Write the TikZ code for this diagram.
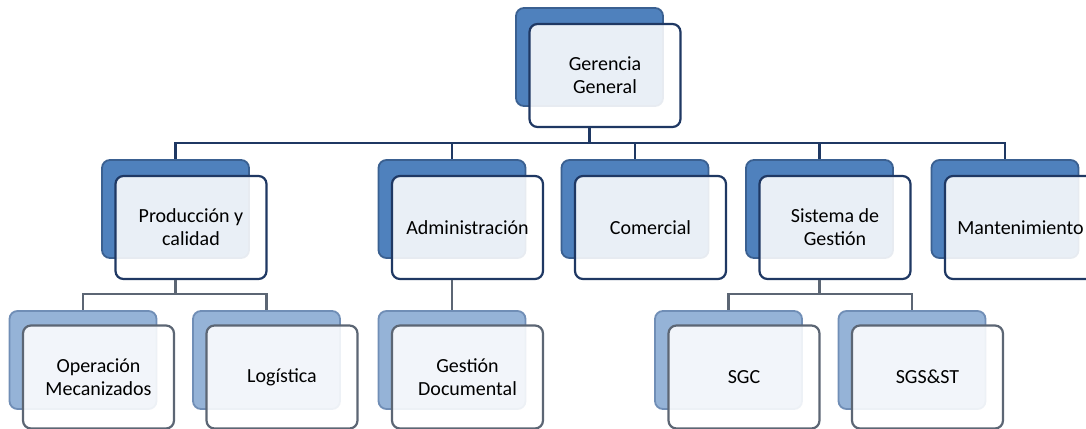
\documentclass[tikz,border=0pt]{standalone}
\usepackage{fontspec}
\setmainfont{Carlito}
\usetikzlibrary{positioning}

\definecolor{backfill}{RGB}{79,129,189}
\definecolor{backedge}{RGB}{58,96,145}
\definecolor{ltfill}{RGB}{149,179,215}
\definecolor{ltedge}{RGB}{112,142,182}
\definecolor{navy}{RGB}{31,56,99}
\definecolor{grayedge}{RGB}{92,102,116}

\tikzset{
  backbox/.style={draw=backedge, fill=backfill, line width=1.8pt, rounded corners=8pt,
    minimum width=147pt, minimum height=98pt, inner sep=0pt},
  backboxlt/.style={backbox, draw=ltedge, fill=ltfill},
  frontbox/.style={draw=navy, fill=white, fill opacity=0.88, text opacity=1,
    line width=2.2pt, rounded corners=8pt, minimum width=151pt, minimum height=103pt,
    inner sep=2pt, align=center, font=\fontsize{20}{23}\selectfont},
  frontboxlt/.style={frontbox, draw=grayedge},
  link/.style={draw=navy, line width=2.6pt},
  sublink/.style={draw=grayedge, line width=2.6pt},
}

\begin{document}
\begin{tikzpicture}[x=1pt,y=1pt,yscale=-1,xscale=1]
\useasboundingbox (0,0) rectangle (1086,428);
\clip (0,0) rectangle (1086,428);

%Bus lines
\coordinate (bus) at (0,143);
\coordinate (subbus) at (0,294);

%Top: Gerencia General
\node[backbox] (ggB) at (589.5,57) {};
\node[frontbox] (gg) at ([shift={(15.5,18.5)}]ggB) {Gerencia\\General};

%Second row
\node[backbox] (prodB) at (175.5,209) {};
\node[frontbox] (prod) at ([shift={(15.5,18.5)}]prodB) {Producción y\\calidad};
\node[backbox] (admB) at (452,209) {};
\node[frontbox] (adm) at ([shift={(15.5,18.5)}]admB) {Administración};
\node[backbox] (comB) at (635,209) {};
\node[frontbox] (com) at ([shift={(15.5,18.5)}]comB) {Comercial};
\node[backbox] (sisB) at (819.5,209) {};
\node[frontbox] (sis) at ([shift={(15.5,18.5)}]sisB) {Sistema de\\Gestión};
\node[backbox] (manB) at (1005,209) {};
\node[frontbox] (man) at ([shift={(15.5,18.5)}]manB) {Mantenimiento};

%Third row
\node[backboxlt] (operB) at (83,360) {};
\node[frontboxlt] (oper) at ([shift={(15.5,17)}]operB) {Operación\\Mecanizados};
\node[backboxlt] (logB) at (266.5,360) {};
\node[frontboxlt] (log) at ([shift={(15.5,17)}]logB) {Logística};
\node[backboxlt] (gesB) at (452,360) {};
\node[frontboxlt] (ges) at ([shift={(15.5,17)}]gesB) {Gestión\\Documental};
\node[backboxlt] (sgcB) at (728.5,360) {};
\node[frontboxlt] (sgc) at ([shift={(15.5,17)}]sgcB) {SGC};
\node[backboxlt] (sgsB) at (912,360) {};
\node[frontboxlt] (sgs) at ([shift={(15.5,17)}]sgsB) {SGS\&ST};

%Connectors
\foreach \n in {prodB,admB,comB,sisB,manB}
  \draw[link] (gg.south -| ggB) |- (bus -| \n) -- (\n.north);
\foreach \n in {operB,logB}
  \draw[sublink] (prod.south -| prodB) |- (subbus -| \n) -- (\n.north);
\draw[sublink] (gesB |- adm.south) -- (gesB.north);
\foreach \n in {sgcB,sgsB}
  \draw[sublink] (sis.south -| sisB) |- (subbus -| \n) -- (\n.north);

\end{tikzpicture}
\end{document}
